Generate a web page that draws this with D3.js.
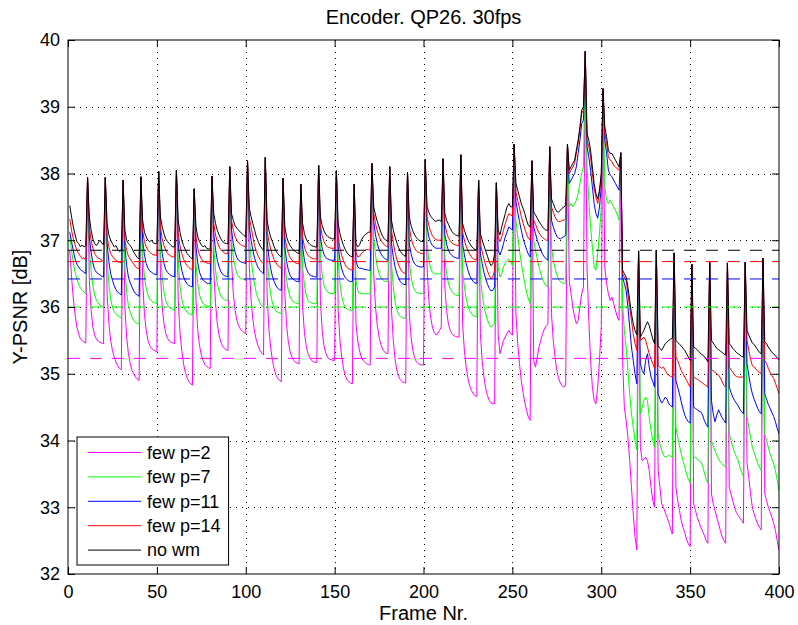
<!DOCTYPE html>
<html>
<head>
<meta charset="utf-8">
<script src="https://cdn.jsdelivr.net/npm/d3@7"></script>
<style>
  body { margin: 0; background: #fff; }
  svg text { font-family: "Liberation Sans", Arial, sans-serif; fill: #000; }
</style>
</head>
<body>
<div id="chart"></div>
<script>
/**
 * CONSTANTS AND GLOBALS
 * */
const width = 798,
  height = 625,
  margin = { top: 40, right: 19, bottom: 51, left: 68 };

const chartTitle = "Encoder. QP26. 30fps";
const xLabel = "Frame Nr.";
const yLabel = "Y-PSNR [dB]";
const xTicks = [0, 50, 100, 150, 200, 250, 300, 350, 400];
const yTicks = [32, 33, 34, 35, 36, 37, 38, 39, 40];

const seriesNames = ["few p=2", "few p=7", "few p=11", "few p=14", "no wm"];
const seriesColors = ["#ff00ff", "#00ff00", "#0000ff", "#ff0000", "#000000"];
// average PSNR of each series (dashed lines)
const meanPsnr = [35.23, 36.0, 36.42, 36.68, 36.85];

// per-frame Y-PSNR, one row per GOP of 10 frames (frames 1..400)
const fewP2 = [
  [36.85,36.45,36.12,35.88,35.7,35.6,35.52,35.5,35.47,35.46],
  [37.94,36.4,35.95,35.7,35.58,35.52,35.49,35.47,35.46,35.45],
  [37.94,36.2,35.75,35.5,35.35,35.25,35.17,35.12,35.08,35.06],
  [37.9,36.0,35.55,35.3,35.15,35.05,35.0,34.95,34.92,34.9],
  [37.95,36.4,35.9,35.65,35.5,35.42,35.38,35.36,35.34,35.33],
  [38.03,36.5,36.0,35.75,35.6,35.53,35.49,35.47,35.46,35.45],
  [38.05,36.1,35.62,35.35,35.15,35.02,34.94,34.88,34.85,34.83],
  [37.77,36.1,35.65,35.42,35.28,35.2,35.14,35.11,35.09,35.08],
  [37.96,36.55,36.05,35.75,35.58,35.47,35.41,35.38,35.36,35.35],
  [38.1,36.7,36.2,35.95,35.8,35.72,35.67,35.64,35.62,35.6],
  [38.19,36.6,36.1,35.82,35.62,35.5,35.41,35.35,35.31,35.28],
  [38.24,36.2,35.68,35.4,35.2,35.07,34.98,34.93,34.9,34.88],
  [37.93,36.2,35.72,35.47,35.33,35.25,35.2,35.17,35.16,35.15],
  [37.84,36.0,35.62,35.42,35.3,35.24,35.2,35.18,35.17,35.17],
  [38.12,36.1,35.65,35.42,35.31,35.25,35.22,35.21,35.2,35.2],
  [38.04,35.95,35.5,35.25,35.08,34.97,34.91,34.88,34.86,34.85],
  [37.84,35.75,35.5,35.35,35.25,35.2,35.17,35.15,35.14,35.13],
  [38.15,36.5,36.0,35.72,35.55,35.44,35.37,35.33,35.31,35.3],
  [38.1,35.95,35.5,35.22,35.05,34.96,34.91,34.88,34.87,34.86],
  [38.02,35.9,35.55,35.35,35.24,35.18,35.15,35.14,35.13,35.13],
  [38.21,36.6,36.1,35.85,35.7,35.62,35.58,35.6,35.65,35.7],
  [38.22,36.3,35.95,35.75,35.65,35.6,35.57,35.56,35.55,35.55],
  [38.28,35.75,35.35,35.1,34.93,34.82,34.75,34.7,34.67,34.66],
  [37.9,35.6,35.2,34.95,34.78,34.67,34.6,34.56,34.55,34.55],
  [37.86,35.6,35.3,35.4,35.5,35.55,35.6,35.65,35.6,35.58],
  [38.44,35.9,35.45,35.15,34.9,34.72,34.57,34.45,34.35,34.3],
  [38.19,35.2,35.1,35.25,35.4,35.5,35.6,35.67,35.72,35.75],
  [38.4,35.9,35.5,35.25,35.05,34.93,34.86,34.82,34.8,34.83],
  [38.44,36.4,36.2,36.0,35.85,35.75,35.8,36.0,36.2,36.3],
  [39.83,36.6,35.8,35.2,34.8,34.6,34.55,34.8,35.2,35.7],
  [39.27,36.6,36.35,36.2,36.1,36.15,36.05,35.95,35.85,35.8],
  [38.31,35.2,34.5,34.3,34.05,33.7,33.3,32.9,32.56,32.36],
  [36.84,33.9,33.7,33.72,33.75,33.7,33.55,33.3,33.1,33.0],
  [36.85,33.56,33.3,33.05,33.0,32.92,32.85,32.78,32.68,32.6],
  [36.81,33.3,33.1,32.95,32.8,32.7,32.62,32.52,32.45,32.41],
  [36.64,33.05,32.95,32.85,32.78,32.7,32.64,32.58,32.5,32.46],
  [36.67,33.2,33.05,32.95,32.85,32.75,32.65,32.56,32.5,32.46],
  [36.66,33.3,33.2,33.1,33.0,32.92,32.88,32.84,32.8,32.76],
  [36.67,33.66,33.45,33.2,33.0,32.9,32.82,32.75,32.7,32.66],
  [36.73,33.2,33.1,33.0,32.92,32.85,32.76,32.65,32.5,32.36]
];

const fewP7 = [
  [37.05,36.85,36.66,36.52,36.42,36.34,36.28,36.25,36.22,36.2],
  [37.94,36.85,36.55,36.32,36.18,36.1,36.06,36.03,36.01,36.0],
  [37.94,36.7,36.35,36.12,36.0,35.93,35.9,35.87,35.85,35.83],
  [37.9,36.6,36.22,36.02,35.92,35.85,35.8,35.77,35.75,35.74],
  [37.95,36.8,36.45,36.28,36.18,36.12,36.09,36.07,36.06,36.05],
  [38.03,36.85,36.45,36.22,36.1,36.03,36.0,35.98,35.96,35.95],
  [38.05,36.7,36.32,36.12,36.02,35.96,35.92,35.9,35.89,35.88],
  [37.77,36.65,36.35,36.18,36.1,36.05,36.03,36.02,36.01,36.0],
  [37.96,36.9,36.55,36.35,36.24,36.17,36.13,36.11,36.1,36.1],
  [38.1,37.0,36.75,36.6,36.5,36.45,36.43,36.42,36.41,36.4],
  [38.19,37.05,36.72,36.5,36.33,36.2,36.12,36.06,36.02,36.0],
  [38.24,36.8,36.42,36.2,36.06,35.98,35.94,35.92,35.91,35.9],
  [37.93,36.7,36.4,36.24,36.15,36.1,36.08,36.06,36.05,36.05],
  [37.84,36.6,36.33,36.18,36.1,36.07,36.06,36.05,36.05,36.05],
  [38.12,36.8,36.48,36.33,36.26,36.23,36.21,36.2,36.2,36.2],
  [38.04,36.7,36.35,36.16,36.05,35.99,35.97,35.96,35.95,35.95],
  [37.84,36.4,36.25,36.2,36.2,36.2,36.2,36.2,36.2,36.2],
  [38.15,37.05,36.78,36.6,36.5,36.44,36.41,36.39,36.38,36.38],
  [38.1,36.65,36.3,36.08,35.96,35.89,35.86,35.84,35.83,35.83],
  [38.02,36.7,36.45,36.32,36.25,36.22,36.21,36.2,36.2,36.2],
  [38.21,36.95,36.7,36.58,36.52,36.5,36.49,36.5,36.5,36.5],
  [38.22,36.75,36.5,36.36,36.28,36.23,36.2,36.18,36.17,36.17],
  [38.28,36.55,36.3,36.13,36.01,35.94,35.9,35.87,35.86,35.85],
  [37.9,36.45,36.2,36.02,35.9,35.8,35.74,35.7,35.72,35.75],
  [37.86,36.6,36.45,36.5,36.6,36.66,36.7,36.72,36.68,36.62],
  [38.44,37.3,37.05,36.85,36.66,36.5,36.35,36.22,36.12,36.05],
  [38.19,37.0,36.85,36.72,36.6,36.5,36.42,36.36,36.32,36.3],
  [38.4,36.9,36.7,36.58,36.48,36.42,36.38,36.36,36.35,36.36],
  [38.44,37.5,37.55,37.5,37.55,37.6,37.7,37.85,38.0,38.1],
  [39.83,38.1,37.6,37.2,36.9,36.6,36.55,36.8,37.1,37.5],
  [39.27,37.8,37.6,37.55,37.6,37.55,37.5,37.45,37.38,37.3],
  [38.31,36.05,35.65,35.4,35.05,34.7,34.4,34.2,34.0,33.86],
  [36.84,34.4,34.5,34.6,34.65,34.6,34.35,34.15,34.0,33.9],
  [36.85,34.1,33.95,33.85,33.78,33.75,33.76,33.78,33.76,33.75],
  [36.81,34.2,34.05,33.92,33.8,33.7,33.6,33.5,33.42,33.36],
  [36.64,33.76,33.74,33.72,33.7,33.68,33.62,33.52,33.42,33.36],
  [36.67,34.0,33.92,33.84,33.78,33.72,33.68,33.65,33.62,33.6],
  [36.66,34.1,34.0,33.9,33.82,33.76,33.7,33.6,33.52,33.46],
  [36.67,34.36,34.2,34.05,33.9,33.82,33.74,33.66,33.6,33.55],
  [36.73,34.1,34.0,33.9,33.8,33.72,33.66,33.55,33.4,33.25]
];

const fewP11 = [
  [37.12,36.98,36.84,36.72,36.64,36.6,36.56,36.54,36.52,36.5],
  [37.94,37.05,36.82,36.66,36.56,36.52,36.5,36.48,36.46,36.45],
  [37.94,36.95,36.68,36.5,36.4,36.32,36.26,36.22,36.2,36.18],
  [37.9,36.9,36.62,36.45,36.36,36.3,36.24,36.2,36.18,36.16],
  [37.95,37.0,36.78,36.65,36.58,36.54,36.52,36.5,36.49,36.48],
  [38.03,37.05,36.8,36.65,36.56,36.52,36.49,36.47,36.46,36.45],
  [38.05,36.95,36.7,36.55,36.45,36.39,36.35,36.32,36.31,36.3],
  [37.77,36.9,36.66,36.52,36.45,36.4,36.38,36.36,36.35,36.35],
  [37.96,37.1,36.86,36.7,36.6,36.53,36.49,36.47,36.46,36.45],
  [38.1,37.15,36.95,36.82,36.74,36.7,36.68,36.67,36.66,36.65],
  [38.19,37.2,37.0,36.85,36.73,36.65,36.59,36.55,36.52,36.5],
  [38.24,37.0,36.75,36.58,36.46,36.38,36.32,36.28,36.26,36.25],
  [37.93,36.9,36.68,36.55,36.47,36.43,36.41,36.39,36.38,36.38],
  [37.84,36.9,36.7,36.58,36.52,36.48,36.47,36.46,36.45,36.45],
  [38.12,37.05,36.88,36.79,36.74,36.72,36.71,36.7,36.7,36.7],
  [38.04,36.9,36.7,36.57,36.49,36.44,36.41,36.39,36.38,36.38],
  [37.84,36.7,36.6,36.58,36.58,36.57,36.56,36.56,36.55,36.55],
  [38.15,37.28,37.08,36.95,36.86,36.8,36.76,36.73,36.71,36.7],
  [38.1,36.95,36.75,36.6,36.5,36.43,36.38,36.35,36.34,36.33],
  [38.02,36.95,36.8,36.7,36.65,36.62,36.61,36.6,36.6,36.6],
  [38.21,37.2,37.05,36.97,36.92,36.9,36.88,36.88,36.88,36.88],
  [38.22,37.08,36.94,36.85,36.8,36.77,36.75,36.74,36.73,36.73],
  [38.28,36.95,36.78,36.65,36.55,36.47,36.42,36.38,36.36,36.35],
  [37.9,36.8,36.65,36.52,36.42,36.34,36.28,36.24,36.25,36.3],
  [37.86,36.85,36.78,36.85,36.95,37.05,37.12,37.2,37.18,37.15],
  [38.44,37.58,37.42,37.28,37.15,37.03,36.94,36.86,36.79,36.75],
  [38.19,37.2,37.1,37.0,36.92,36.85,36.79,36.75,36.72,36.7],
  [38.4,37.3,37.2,37.12,37.06,37.03,37.02,37.04,37.05,37.08],
  [38.44,37.85,37.9,37.95,38.0,38.1,38.3,38.5,38.75,38.8],
  [39.83,38.4,38.25,38.05,37.8,37.55,37.4,37.33,37.5,37.8],
  [39.27,38.5,38.3,38.05,37.98,37.95,37.9,37.85,37.8,37.75],
  [38.31,36.45,36.35,36.25,36.0,35.7,35.4,35.2,35.0,34.85],
  [36.84,35.15,35.05,35.0,35.2,35.3,35.1,34.95,34.88,34.8],
  [36.85,34.7,34.62,34.56,34.6,34.65,34.62,34.55,34.52,34.5],
  [36.81,34.9,34.8,34.7,34.58,34.47,34.38,34.32,34.28,34.26],
  [36.64,34.5,34.48,34.46,34.44,34.43,34.38,34.3,34.24,34.2],
  [36.67,34.6,34.4,34.28,34.38,34.46,34.4,34.34,34.3,34.26],
  [36.66,34.8,34.72,34.65,34.6,34.56,34.52,34.47,34.43,34.4],
  [36.67,35.15,34.98,34.82,34.7,34.62,34.55,34.48,34.43,34.4],
  [36.73,34.7,34.62,34.54,34.48,34.42,34.36,34.28,34.18,34.1]
];

const fewP14 = [
  [37.32,37.15,37.02,36.93,36.85,36.8,36.76,36.72,36.74,36.7],
  [37.94,37.2,37.0,36.88,36.8,36.76,36.73,36.72,36.7,36.68],
  [37.94,37.05,36.9,36.8,36.76,36.72,36.7,36.68,36.67,36.66],
  [37.9,37.0,36.85,36.76,36.72,36.68,36.64,36.6,36.58,36.57],
  [37.95,37.15,36.98,36.9,36.85,36.82,36.8,36.78,36.78,36.77],
  [38.03,37.2,37.02,36.92,36.85,36.8,36.78,36.76,36.75,36.75],
  [38.05,37.1,36.92,36.8,36.72,36.66,36.62,36.59,36.57,36.56],
  [37.77,37.05,36.88,36.78,36.72,36.69,36.67,36.66,36.65,36.65],
  [37.96,37.25,37.08,36.98,36.9,36.86,36.83,36.81,36.8,36.8],
  [38.1,37.3,37.15,37.05,37.0,36.96,36.94,36.92,36.91,36.9],
  [38.19,37.35,37.2,37.05,36.92,36.83,36.76,36.71,36.67,36.65],
  [38.24,37.15,36.98,36.87,36.78,36.71,36.66,36.62,36.6,36.58],
  [37.93,37.05,36.9,36.8,36.74,36.7,36.68,36.66,36.65,36.65],
  [37.84,37.05,36.9,36.82,36.77,36.75,36.73,36.72,36.72,36.72],
  [38.12,37.22,37.07,36.98,36.93,36.9,36.89,36.88,36.88,36.88],
  [38.04,37.05,36.88,36.77,36.69,36.63,36.59,36.57,36.56,36.55],
  [37.84,36.82,36.75,36.76,36.8,36.83,36.85,36.86,36.86,36.85],
  [38.15,37.4,37.25,37.14,37.06,37.0,36.96,36.93,36.91,36.9],
  [38.1,37.15,36.96,36.82,36.71,36.63,36.57,36.53,36.51,36.5],
  [38.02,37.2,37.04,36.94,36.88,36.84,36.82,36.81,36.8,36.8],
  [38.21,37.35,37.22,37.13,37.07,37.03,37.01,37.0,37.0,37.0],
  [38.22,37.25,37.12,37.04,36.99,36.96,36.94,36.93,36.92,36.92],
  [38.28,37.12,37.0,36.91,36.84,36.79,36.75,36.72,36.71,36.7],
  [37.9,36.95,36.83,36.72,36.62,36.54,36.47,36.42,36.45,36.55],
  [37.86,37.05,36.98,37.05,37.15,37.25,37.33,37.4,37.38,37.36],
  [38.44,37.72,37.6,37.48,37.36,37.26,37.17,37.09,37.03,37.0],
  [38.19,37.3,37.24,37.17,37.11,37.07,37.04,37.02,37.0,37.0],
  [38.4,37.5,37.42,37.35,37.3,37.28,37.28,37.3,37.3,37.32],
  [38.44,38.0,38.05,38.1,38.15,38.3,38.45,38.65,38.9,38.95],
  [39.83,38.5,38.4,38.25,38.0,37.78,37.65,37.55,37.7,37.95],
  [39.27,38.6,38.45,38.25,38.2,38.18,38.12,38.1,38.07,38.05],
  [38.31,36.5,36.45,36.4,36.2,36.0,35.8,35.6,35.45,35.35],
  [36.84,35.5,35.52,35.55,35.5,35.4,35.3,35.22,35.15,35.08],
  [36.85,35.12,35.1,35.08,35.1,35.05,35.0,34.98,34.96,34.95],
  [36.81,35.25,35.2,35.12,35.05,35.0,34.95,34.9,34.85,34.8],
  [36.64,34.95,34.93,34.92,34.9,34.88,34.86,34.84,34.82,34.8],
  [36.67,35.06,35.04,35.02,35.0,34.98,34.94,34.88,34.83,34.8],
  [36.66,35.1,35.06,35.02,34.98,34.96,34.95,34.95,34.95,34.95],
  [36.67,35.5,35.35,35.22,35.12,35.1,35.07,35.04,35.02,35.0],
  [36.73,35.2,35.15,35.08,35.02,34.97,34.93,34.86,34.78,34.7]
];

const noWm = [
  [37.52,37.35,37.2,37.08,36.98,36.95,36.9,36.93,36.9,36.92],
  [37.94,37.35,37.15,37.02,36.95,36.92,36.96,37.0,36.96,36.93],
  [37.94,37.25,37.08,37.0,36.95,36.9,36.92,36.86,36.83,36.85],
  [37.9,37.15,37.0,36.95,36.92,36.88,36.82,36.78,36.74,36.72],
  [37.95,37.3,37.12,37.05,37.0,36.98,37.0,36.96,36.95,36.95],
  [38.03,37.35,37.2,37.1,37.02,36.98,36.95,36.92,36.9,36.9],
  [38.05,37.3,37.12,37.0,36.92,36.86,36.8,36.77,36.74,36.72],
  [37.77,37.2,37.05,36.98,36.93,36.9,36.92,36.88,36.87,36.87],
  [37.96,37.4,37.25,37.15,37.08,37.02,36.98,36.96,36.95,36.95],
  [38.1,37.4,37.3,37.22,37.18,37.15,37.12,37.1,37.07,37.05],
  [38.19,37.48,37.35,37.25,37.15,37.05,36.98,36.92,36.88,36.85],
  [38.24,37.3,37.15,37.05,36.98,36.9,36.84,36.8,36.77,36.75],
  [37.93,37.2,37.05,36.97,36.92,36.88,36.85,36.83,36.81,36.8],
  [37.84,37.25,37.1,37.02,36.97,36.94,36.92,36.91,36.9,36.9],
  [38.12,37.35,37.22,37.14,37.09,37.06,37.04,37.03,37.02,37.02],
  [38.04,37.25,37.1,37.0,36.92,36.86,36.81,36.78,36.76,36.75],
  [37.84,36.95,36.9,36.93,37.0,37.05,37.08,37.1,37.12,37.12],
  [38.15,37.5,37.38,37.28,37.2,37.12,37.06,37.02,37.0,36.98],
  [38.1,37.3,37.15,37.05,36.96,36.89,36.83,36.8,36.77,36.76],
  [38.02,37.35,37.22,37.14,37.08,37.04,37.01,36.99,36.98,36.98],
  [38.21,37.5,37.42,37.36,37.33,37.3,37.28,37.3,37.3,37.28],
  [38.22,37.4,37.3,37.24,37.18,37.13,37.1,37.08,37.07,37.06],
  [38.28,37.25,37.15,37.07,37.0,36.95,36.91,36.88,36.86,36.85],
  [37.9,37.1,37.0,36.92,36.84,36.76,36.68,36.62,36.65,36.8],
  [37.86,37.15,37.08,37.2,37.3,37.4,37.5,37.55,37.5,37.5],
  [38.44,37.85,37.75,37.65,37.55,37.48,37.4,37.3,37.22,37.2],
  [38.19,37.42,37.38,37.33,37.28,37.24,37.2,37.17,37.15,37.15],
  [38.4,37.62,37.55,37.48,37.43,37.42,37.45,37.48,37.5,37.52],
  [38.44,38.05,38.1,38.15,38.2,38.35,38.5,38.7,38.95,39.0],
  [39.83,38.6,38.5,38.35,38.1,37.85,37.7,37.62,37.75,38.0],
  [39.27,38.7,38.55,38.35,38.3,38.3,38.25,38.2,38.15,38.1],
  [38.31,36.55,36.5,36.45,36.3,36.1,35.9,35.75,35.65,35.58],
  [36.84,35.55,35.6,35.65,35.72,35.78,35.72,35.62,35.52,35.45],
  [36.85,35.42,35.38,35.35,35.4,35.45,35.48,35.5,35.52,35.53],
  [36.81,35.5,35.47,35.44,35.42,35.38,35.35,35.3,35.25,35.2],
  [36.64,35.4,35.38,35.36,35.33,35.3,35.28,35.26,35.22,35.18],
  [36.67,35.5,35.46,35.42,35.38,35.36,35.34,35.32,35.3,35.28],
  [36.66,35.45,35.42,35.38,35.35,35.32,35.3,35.28,35.26,35.25],
  [36.67,35.65,35.58,35.52,35.46,35.44,35.4,35.36,35.32,35.3],
  [36.73,35.48,35.45,35.4,35.36,35.32,35.3,35.27,35.24,35.2]
];

const seriesData = [fewP2, fewP7, fewP11, fewP14, noWm];

/**
 * DRAW
 * */
const svg = d3.select("#chart")
  .append("svg")
  .attr("width", width)
  .attr("height", height)
  .style("display", "block");

svg.append("rect").attr("width", width).attr("height", height).attr("fill", "#fff");

const x = d3.scaleLinear()
  .domain([0, 400])
  .range([margin.left, width - margin.right]);

const y = d3.scaleLinear()
  .domain([32, 40])
  .range([height - margin.bottom, margin.top]);

// dotted grid
const grid = svg.append("g").attr("stroke", "#000").attr("stroke-width", 1)
  .attr("stroke-dasharray", "1,5").attr("shape-rendering", "crispEdges");

grid.selectAll("line.gx")
  .data(xTicks.slice(1, -1))
  .join("line")
  .attr("class", "gx")
  .attr("x1", d => Math.round(x(d)) + 0.5)
  .attr("x2", d => Math.round(x(d)) + 0.5)
  .attr("y1", y(40))
  .attr("y2", y(32));

grid.selectAll("line.gy")
  .data(yTicks.slice(1, -1))
  .join("line")
  .attr("class", "gy")
  .attr("y1", d => Math.round(y(d)) + 0.5)
  .attr("y2", d => Math.round(y(d)) + 0.5)
  .attr("x1", x(0))
  .attr("x2", x(400));

// clip
svg.append("clipPath").attr("id", "clip")
  .append("rect")
  .attr("x", x(0)).attr("y", y(40))
  .attr("width", x(400) - x(0)).attr("height", y(32) - y(40));

const line = d3.line()
  .x((d, i) => x(i + 1))
  .y(d => y(d));

const plot = svg.append("g").attr("clip-path", "url(#clip)");

plot.selectAll("path.series")
  .data(seriesData)
  .join("path")
  .attr("class", "series")
  .attr("fill", "none")
  .attr("stroke", (d, i) => seriesColors[i])
  .attr("stroke-width", 1)
  .attr("stroke-linejoin", "round")
  .attr("d", d => line(d.flat()));

// mean lines
plot.selectAll("line.mean")
  .data(meanPsnr)
  .join("line")
  .attr("class", "mean")
  .attr("x1", x(0))
  .attr("x2", x(400))
  .attr("y1", d => y(d))
  .attr("y2", d => y(d))
  .attr("stroke", (d, i) => seriesColors[i])
  .attr("stroke-width", 1)
  .attr("stroke-dasharray", "12,10");

// axes
const tickLen = 7;
const axisStyle = g => {
  g.select(".domain").remove();
  g.selectAll(".tick line").attr("stroke", "#000");
  g.selectAll("text").attr("font-size", 18).attr("fill", "#000");
};

svg.append("g")
  .attr("transform", `translate(0,${y(32)})`)
  .call(d3.axisBottom(x).tickValues(xTicks).tickSize(-tickLen).tickPadding(11).tickFormat(d3.format("d")))
  .call(axisStyle);

svg.append("g")
  .attr("transform", `translate(0,${y(40)})`)
  .call(d3.axisTop(x).tickValues(xTicks).tickSize(-tickLen).tickFormat(""))
  .call(axisStyle);

svg.append("g")
  .attr("transform", `translate(${x(0)},0)`)
  .call(d3.axisLeft(y).tickValues(yTicks).tickSize(-tickLen).tickPadding(8).tickFormat(d3.format("d")))
  .call(axisStyle);

svg.append("g")
  .attr("transform", `translate(${x(400)},0)`)
  .call(d3.axisRight(y).tickValues(yTicks).tickSize(-tickLen).tickFormat(""))
  .call(axisStyle);

svg.append("rect")
  .attr("x", x(0)).attr("y", y(40))
  .attr("width", x(400) - x(0)).attr("height", y(32) - y(40))
  .attr("fill", "none").attr("stroke", "#000").attr("stroke-width", 1);

// labels (titles are 1.1x the tick font)
svg.append("text")
  .attr("x", (x(0) + x(400)) / 2)
  .attr("y", 24)
  .attr("text-anchor", "middle")
  .attr("font-size", 20)
  .text(chartTitle);

svg.append("text")
  .attr("x", (x(0) + x(400)) / 2)
  .attr("y", 620)
  .attr("text-anchor", "middle")
  .attr("font-size", 20)
  .text(xLabel);

svg.append("text")
  .attr("transform", `translate(27,${(y(32) + y(40)) / 2}) rotate(-90)`)
  .attr("text-anchor", "middle")
  .attr("font-size", 20)
  .text(yLabel);

// legend
const legend = svg.append("g").attr("transform", "translate(77,437)");
const legendBox = legend.append("rect")
  .attr("fill", "#fff").attr("stroke", "#000").attr("stroke-width", 1)
  .attr("height", 128);

const rows = legend.selectAll("g.row")
  .data(seriesNames)
  .join("g")
  .attr("class", "row")
  .attr("transform", (d, i) => `translate(0,${15.5 + i * 24.4})`);

rows.append("line")
  .attr("x1", 11).attr("x2", 64)
  .attr("stroke", (d, i) => seriesColors[i])
  .attr("stroke-width", 1);

const legendText = rows.append("text")
  .attr("x", 70)
  .attr("dy", "0.35em")
  .attr("font-size", 18)
  .text(d => d);

const maxW = d3.max(legendText.nodes(), n => n.getComputedTextLength());
legendBox.attr("width", 70 + maxW + 8);
</script>
</body>
</html>
